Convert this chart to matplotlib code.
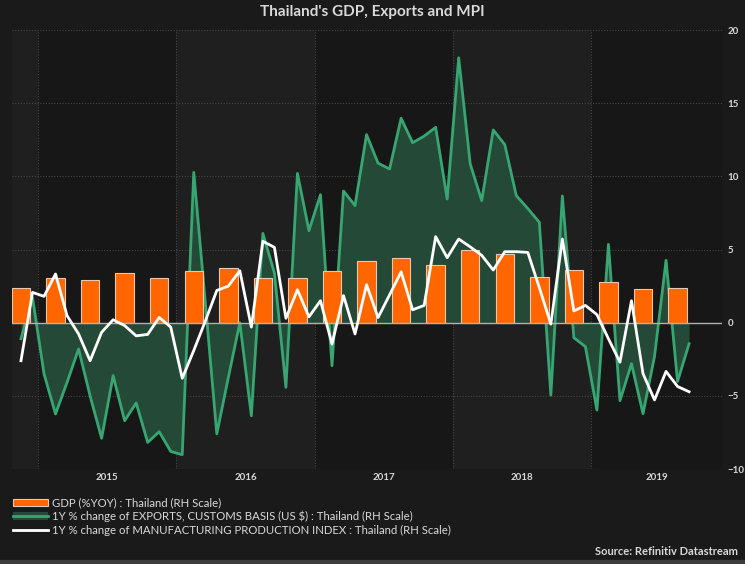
import numpy as np
import matplotlib
matplotlib.use("Agg")
import matplotlib.pyplot as plt
from matplotlib.patches import Patch
from matplotlib.lines import Line2D

plt.rcParams['font.family'] = ['Lato', 'DejaVu Sans']

# monthly series, Nov 2014 .. Sep 2019
exports = [-1.1, 1.73, -3.5, -6.24, -4.08, -1.8, -5.0, -7.9, -3.62, -6.7,
           -5.48, -8.18, -7.45, -8.8, -9.02, 10.27, 1.4, -7.6, -3.75, 0.0,
           -6.36, 6.1, 3.4, -4.42, 10.2, 6.29, 8.75, -2.94, 9.0, 8.0,
           12.85, 10.9, 10.5, 13.97, 12.3, 12.75, 13.35, 8.45, 18.1, 10.85,
           8.34, 13.17, 12.17, 8.68, 7.8, 6.86, -4.95, 8.66, -1.03, -1.64,
           -5.97, 5.35, -5.33, -2.8, -6.22, -2.3, 4.26, -4.02, -1.44]
mpi = [-2.6, 2.07, 1.8, 3.33, 0.48, -0.77, -2.6, -0.66, 0.2, -0.2,
       -0.9, -0.8, 0.36, -0.3, -3.8, -1.9, 0.1, 2.2, 2.5, 3.55,
       -0.3, 5.56, 5.15, 0.3, 2.25, 0.4, 1.5, -1.46, 1.85, -0.77,
       2.6, 0.35, 1.9, 3.47, 0.88, 1.18, 5.88, 4.44, 5.72, 5.18,
       4.6, 3.6, 4.85, 4.85, 4.8, 2.4, -0.1, 5.72, 0.8, 1.18,
       0.55, -1.1, -2.7, 1.5, -3.48, -5.28, -3.33, -4.36, -4.72]
# quarterly GDP, Q4 2014 .. Q3 2019 (plotted at middle month of quarter)
gdp = [2.4, 3.05, 2.9, 3.4, 3.05, 3.5, 3.75, 3.05, 3.05, 3.5,
       4.2, 4.45, 3.95, 5.0, 4.7, 3.15, 3.6, 2.8, 2.3, 2.4]
years = ["2015", "2016", "2017", "2018", "2019"]

BG = "#1a1a1a"
TXT = "#d9d9d9"
GREEN = "#38a673"
FILL = "#244a37"
ORANGE = "#ff6600"

m = np.arange(len(exports))          # month index, 0 = Nov 2014
q = np.arange(len(gdp)) * 3          # quarters
year_edges = np.arange(len(years)) * 12 + 1.5
x0, x1 = -0.78, 60.85

fig = plt.figure(figsize=(7.45, 5.64), dpi=100, facecolor=BG)
ax = fig.add_axes([0.0161, 0.1684, 0.969 - 0.0161, 0.9468 - 0.1684])
ax.set_facecolor("#171717")

# alternating year bands
edges = [x0] + list(year_edges) + [x1]
for i in range(len(edges) - 1):
    if i % 2 == 0:
        ax.axvspan(edges[i], edges[i + 1], color="#1f1f1f", zorder=0, lw=0)

ax.fill_between(m, exports, 0, color=FILL, zorder=2, lw=0)
ax.plot(m, exports, color=GREEN, lw=2, zorder=3)
ax.bar(q, gdp, width=1.6, color=ORANGE, edgecolor="#e8c8b0", lw=0.8, zorder=4)
ax.axhline(0, color="#b0b0b0", lw=1, zorder=5)
ax.plot(m, mpi, color="white", lw=2, zorder=6)

ax.set_xlim(x0, x1)
ax.set_ylim(-10, 20)
ax.set_yticks([-10, -5, 0, 5, 10, 15, 20])
ax.yaxis.tick_right()
ax.tick_params(axis="y", length=0, pad=4, labelsize=7, labelcolor=TXT)
for t in ax.get_yticklabels():
    t.set_fontweight("bold")
ax.set_xticks(year_edges)
ax.set_xticklabels([])
centers = [(year_edges[i] + (year_edges[i + 1] if i + 1 < len(year_edges) else x1)) / 2
           for i in range(len(years))]
ax.set_xticks(centers, minor=True)
ax.set_xticklabels(years, minor=True)
ax.tick_params(axis="x", which="both", length=0, pad=3, labelsize=7, labelcolor=TXT)
for t in ax.get_xticklabels(minor=True):
    t.set_fontweight("bold")
ax.grid(True, which="major", color="#454545", ls=(0, (1, 1.5)), lw=0.8, zorder=1)
for s in ax.spines.values():
    s.set_visible(False)

fig.text(0.5, 0.978, "Thailand's GDP, Exports and MPI", ha="center", va="center",
         color=TXT, fontsize=11, fontweight="bold")

handles = [Patch(facecolor=ORANGE, edgecolor="#e8c8b0", lw=0.8),
           (Patch(facecolor=FILL, lw=0), Line2D([], [], color=GREEN, lw=2)),
           Line2D([], [], color="white", lw=2)]
labels = ["GDP (%YOY) : Thailand (RH Scale)",
          "1Y % change of EXPORTS, CUSTOMS BASIS (US $) : Thailand (RH Scale)",
          "1Y % change of MANUFACTURING PRODUCTION INDEX : Thailand (RH Scale)"]
fig.legend(handles, labels, loc="upper left", bbox_to_anchor=(0.012, 0.126),
           frameon=False, fontsize=8.2, labelcolor=TXT, handlelength=3,
           handletextpad=0.4, labelspacing=0.2, borderaxespad=0)

fig.text(0.99, 0.023, "Source: Refinitiv Datastream", ha="right", va="center",
         color=TXT, fontsize=8, fontweight="bold")
fig.patches.append(plt.Rectangle((0, 0), 1, 0.007, transform=fig.transFigure,
                                 color="#3c3c3c", zorder=0))

fig.savefig("out.png", dpi=100, facecolor=BG)
